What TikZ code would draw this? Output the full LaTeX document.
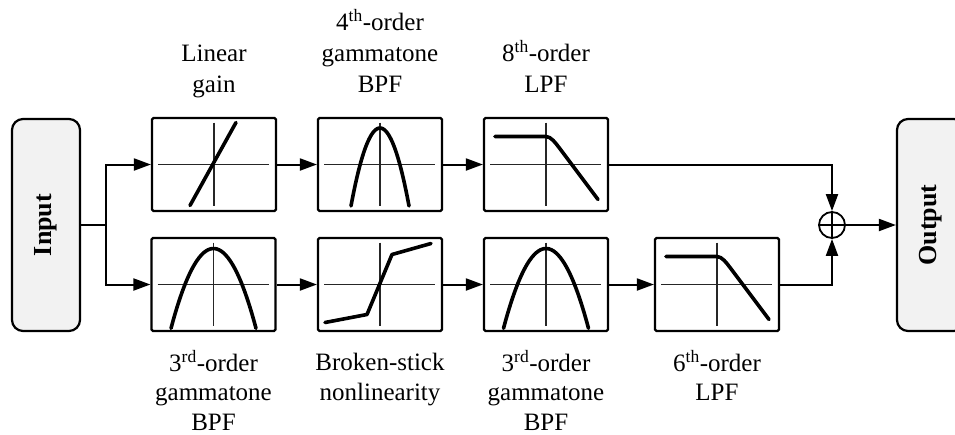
\documentclass[tikz,border=0pt]{standalone}
\usepackage{fontspec}
\setmainfont{Liberation Serif}
\usetikzlibrary{arrows.meta}
\begin{document}
\begin{tikzpicture}[x=1pt,y=-1pt,
  blk/.style={draw, line width=2.2pt, rounded corners=1.5pt, minimum width=124pt, minimum height=93pt, inner sep=0pt, fill=white},
  io/.style={draw, line width=2.2pt, rounded corners=11pt, fill=black!5, minimum width=68pt, minimum height=212pt, inner sep=0pt},
  iotext/.style={font=\fontsize{26}{30}\selectfont\bfseries, rotate=90},
  lbl/.style={font=\fontsize{25}{31}\selectfont, align=center, inner sep=0pt},
  lblb/.style={font=\fontsize{25}{29.5}\selectfont, align=center, inner sep=0pt},
  axis/.style={line width=1.2pt, black!85},
  crv/.style={line width=3.6pt, line cap=round, line join=round},
  con/.style={line width=2pt, -{Triangle[length=17pt,width=12pt]}},
  lin/.style={line width=2pt}
]
\useasboundingbox (0,0) rectangle (955,434);

% input / output
\node[io] (in) at (46,225) {};
\node[iotext] at (in.center) {Input};
\node[io] (out) at (931,225) {};
\node[iotext] at (out.center) {Output};

% top row
\node[blk] (t1) at (214,164.5) {};
\node[blk] (t2) at (380,164.5) {};
\node[blk] (t3) at (546,164.5) {};
% bottom row
\node[blk] (b1) at (213.5,284.5) {};
\node[blk] (b2) at (380,284.5) {};
\node[blk] (b3) at (546,284.5) {};
\node[blk] (b4) at (717,284.5) {};

% axes
\foreach \n in {t1,t2,t3,b1,b2,b3,b4}{
  \begin{scope}[shift={(\n.center)}]
    \draw[axis] (-56,0) -- (55,0);
    \draw[axis] (0,-42) -- (0,41);
  \end{scope}
}

% curves
\begin{scope}[shift={(t1.center)}]
  \draw[crv] (-24,41) -- (22,-42);
\end{scope}
\begin{scope}[shift={(t2.center)}]
  \draw[crv] plot[domain=-29:29, samples=40, smooth] (\x,{-36.5+0.0927*\x*\x});
\end{scope}
\begin{scope}[shift={(t3.center)}]
  \draw[crv] (-51,-28) -- (0,-28) .. controls (5,-28) and (10,-21) .. (13,-17) -- (52,35);
\end{scope}
\begin{scope}[shift={(b1.center)}]
  \draw[crv] plot[domain=-42.5:42.5, samples=40, smooth] (\x,{-36+0.0442*\x*\x});
\end{scope}
\begin{scope}[shift={(b2.center)}]
  \draw[crv] (-55,38) -- (-13,30) -- (12,-30) -- (51,-41);
\end{scope}
\begin{scope}[shift={(b3.center)}]
  \draw[crv] plot[domain=-42.5:42.5, samples=40, smooth] (\x,{-36+0.0442*\x*\x});
\end{scope}
\begin{scope}[shift={(b4.center)}]
  \draw[crv] (-51,-28) -- (0,-28) .. controls (5,-28) and (10,-21) .. (13,-17) -- (52,35);
\end{scope}

% summing junction
\node[draw, circle, line width=1.8pt, minimum size=26pt, inner sep=0pt] (sum) at (832,225) {};
\draw[line width=1.4pt] (sum.north) -- (sum.south) (sum.west) -- (sum.east);

% connectors
\coordinate (br) at (106,225);
\draw[lin] (in.east) -- (br);
\draw[con] (br) |- (t1.west);
\draw[con] (br) |- (b1.west);
\draw[con] (t1.east) -- (t2.west);
\draw[con] (t2.east) -- (t3.west);
\draw[con] (b1.east) -- (b2.west);
\draw[con] (b2.east) -- (b3.west);
\draw[con] (b3.east) -- (b4.west);
\draw[con] (t3.east) -| (sum.north);
\draw[con] (b4.east) -| (sum.south);
\draw[con] (sum.east) -- (out.west);

% labels
\node[lbl, anchor=south] at ([yshift=15pt]t1.north) {Linear\\gain\strut};
\node[lbl, anchor=south] at ([yshift=15pt]t2.north) {4\textsuperscript{th}-order\\gammatone\\BPF\strut};
\node[lbl, anchor=south] at ([yshift=15pt]t3.north) {8\textsuperscript{th}-order\\LPF\strut};
\node[lblb, anchor=north] at ([yshift=-18pt]b1.south) {\strut 3\textsuperscript{rd}-order\\gammatone\\BPF};
\node[lblb, anchor=north] at ([yshift=-18pt]b2.south) {\strut Broken-stick\\nonlinearity};
\node[lblb, anchor=north] at ([yshift=-18pt]b3.south) {\strut 3\textsuperscript{rd}-order\\gammatone\\BPF};
\node[lblb, anchor=north] at ([yshift=-18pt]b4.south) {\strut 6\textsuperscript{th}-order\\LPF};
\end{tikzpicture}
\end{document}
